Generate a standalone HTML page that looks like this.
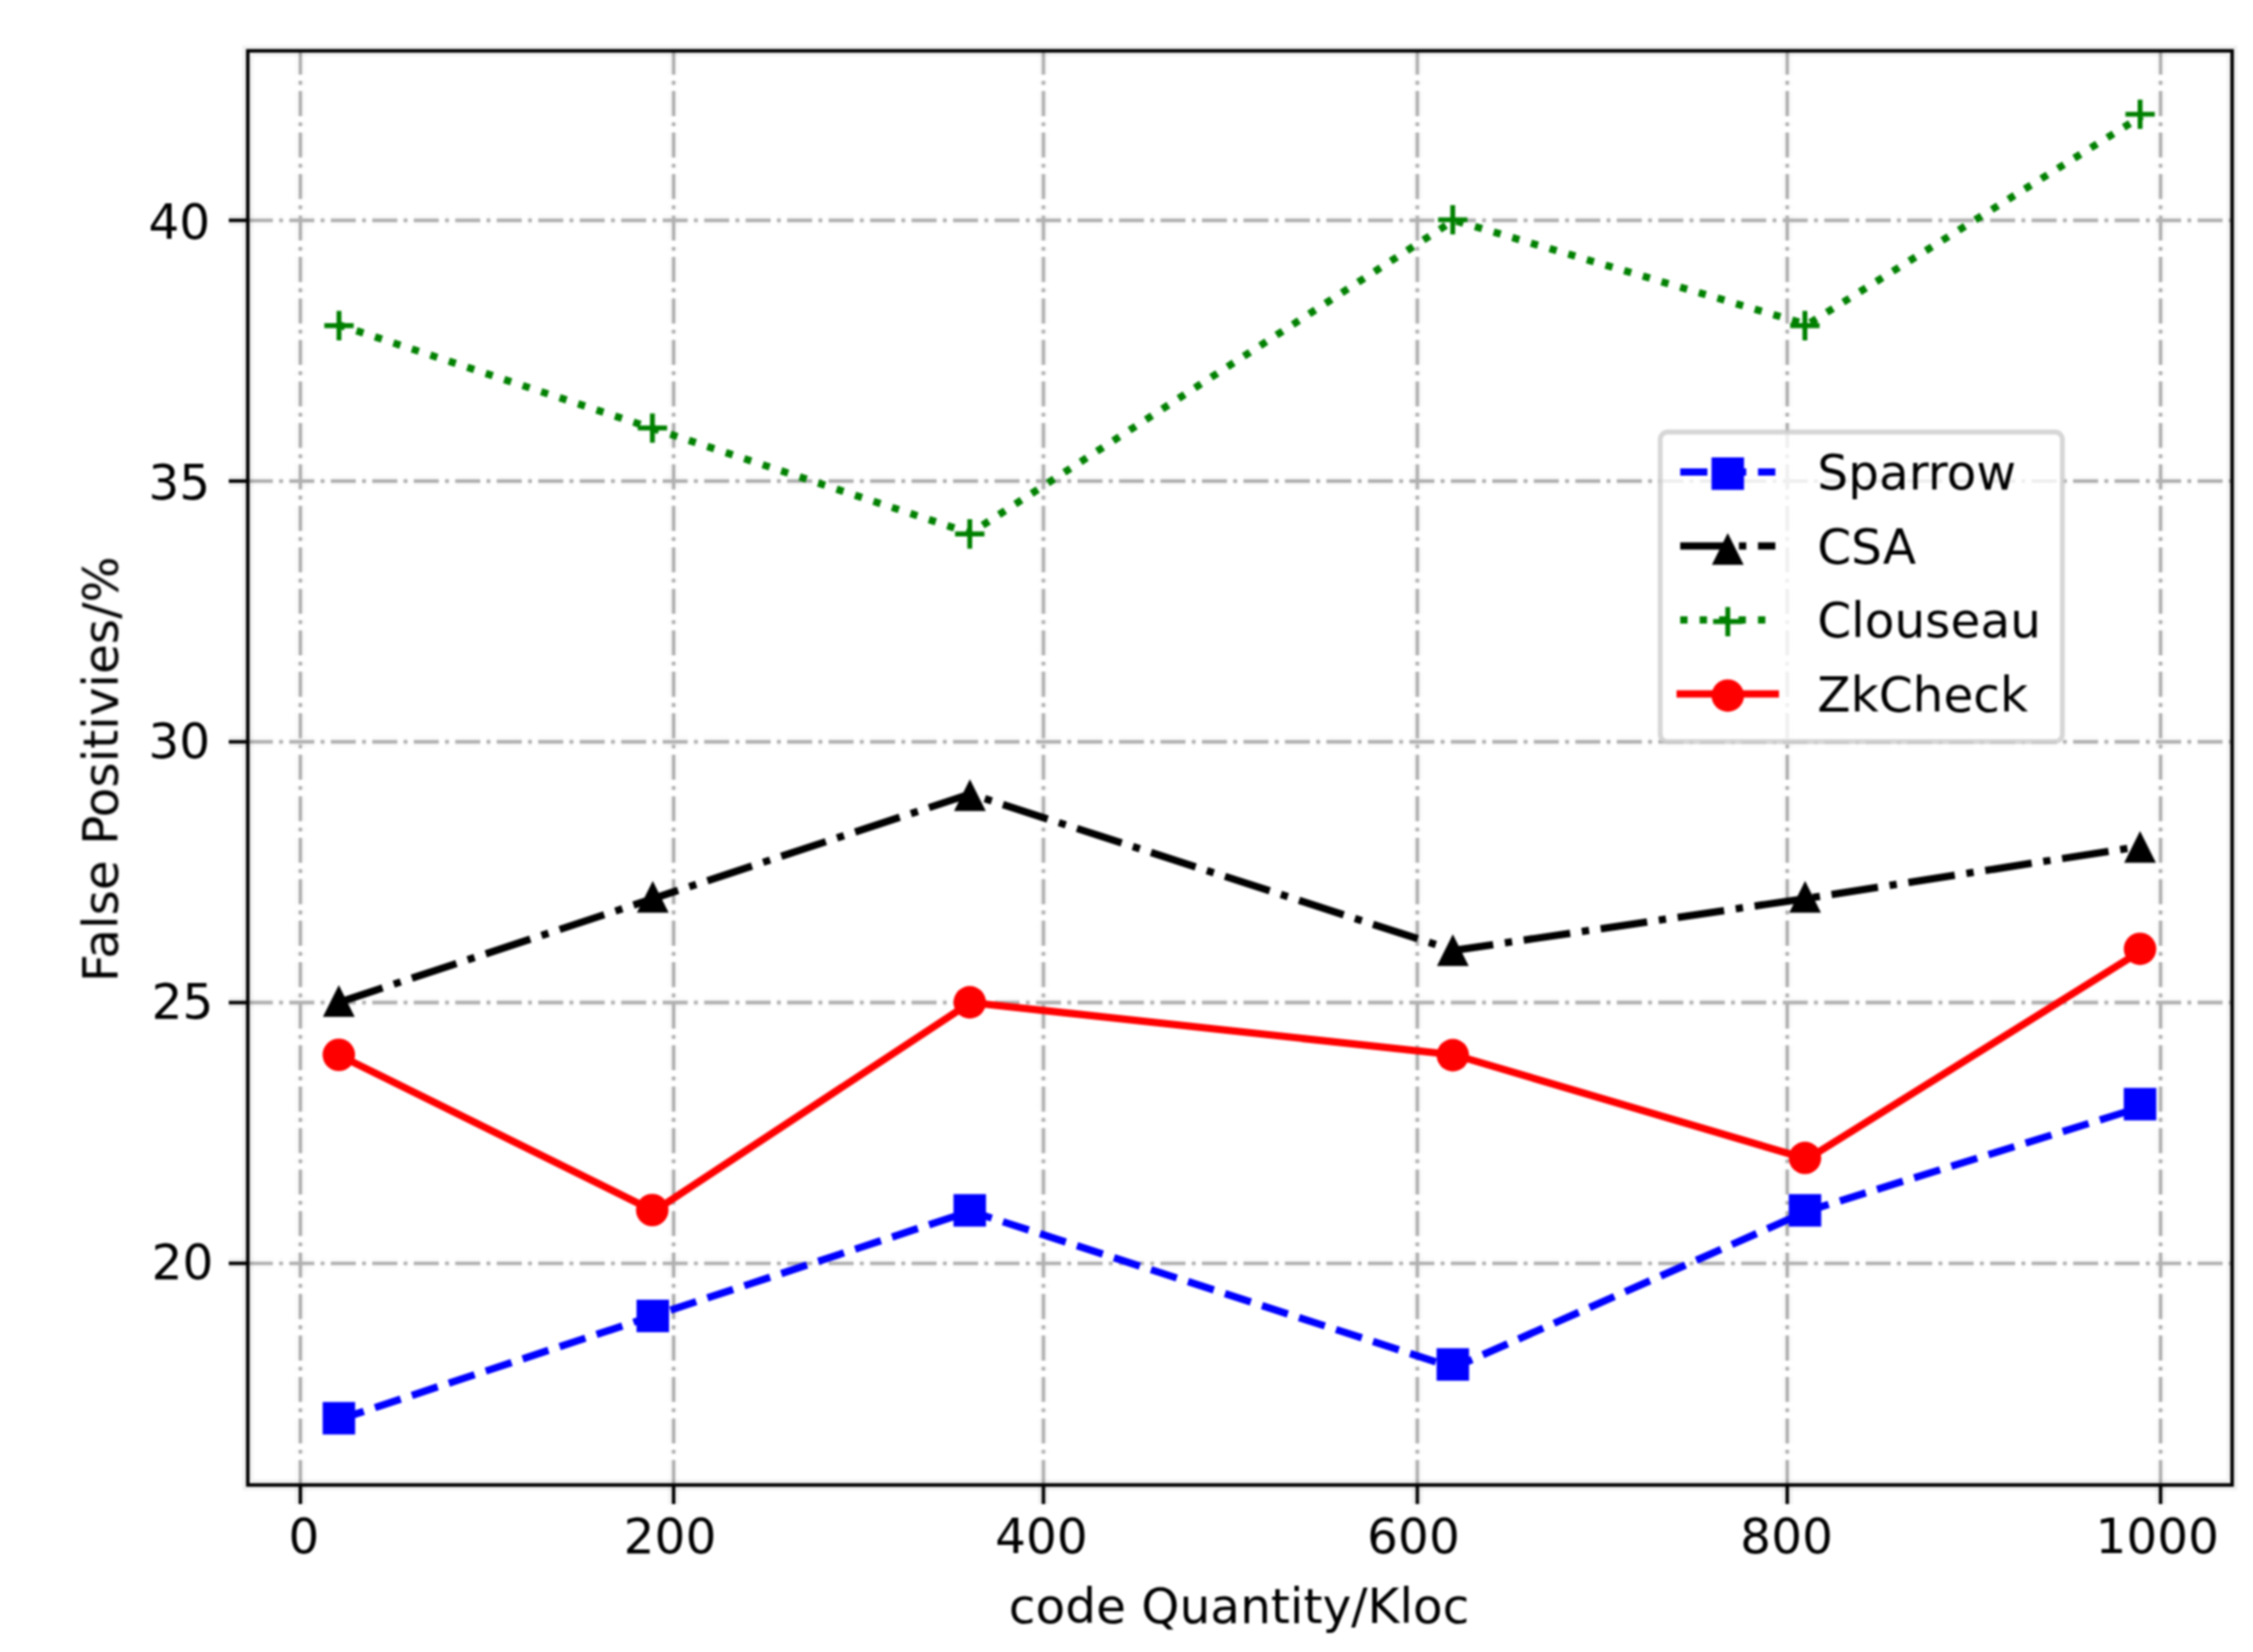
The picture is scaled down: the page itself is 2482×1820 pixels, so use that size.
<!DOCTYPE html>
<html lang="en"><head><meta charset="utf-8"><title>False Positives vs code Quantity</title>
<style>html,body{margin:0;padding:0;background:#fff}body{width:2482px;height:1820px;overflow:hidden}svg{display:block}text{font-family:"DejaVu Sans","Liberation Sans",sans-serif;font-size:53.5px;fill:#000}</style></head><body>
<svg width="2482" height="1820" viewBox="0 0 2482 1820">
<defs><filter id="soft" x="0" y="0" width="2482" height="1820" filterUnits="userSpaceOnUse" color-interpolation-filters="sRGB"><feGaussianBlur stdDeviation="1.2"/></filter></defs>
<rect width="2482" height="1820" fill="#fff"/>
<g filter="url(#soft)">
<g stroke="#b0b0b0" stroke-width="11.63" stroke-opacity="0.056" stroke-dasharray="27.59 6.9 4.31 6.9" fill="none">
<path d="M330.9 1636V56"/>
<path d="M742.1 1636V56"/>
<path d="M1149.5 1636V56"/>
<path d="M1561.4 1636V56"/>
<path d="M1968.9 1636V56"/>
<path d="M2380.2 1636V56"/>
<path d="M273 1391.82H2459"/>
<path d="M273 1104.55H2459"/>
<path d="M273 817.27H2459"/>
<path d="M273 530H2459"/>
<path d="M273 242.73H2459"/>
</g>
<g stroke="#b0b0b0" stroke-width="3.88" stroke-opacity="1" stroke-dasharray="27.59 6.9 4.31 6.9" fill="none">
<path d="M330.9 1636V56"/>
<path d="M742.1 1636V56"/>
<path d="M1149.5 1636V56"/>
<path d="M1561.4 1636V56"/>
<path d="M1968.9 1636V56"/>
<path d="M2380.2 1636V56"/>
<path d="M273 1391.82H2459"/>
<path d="M273 1104.55H2459"/>
<path d="M273 817.27H2459"/>
<path d="M273 530H2459"/>
<path d="M273 242.73H2459"/>
</g>
<g stroke="#000" stroke-width="11.63" stroke-opacity="0.056" fill="none">
<path d="M330.9 1636V1657.02"/>
<path d="M742.1 1636V1657.02"/>
<path d="M1149.5 1636V1657.02"/>
<path d="M1561.4 1636V1657.02"/>
<path d="M1968.9 1636V1657.02"/>
<path d="M2380.2 1636V1657.02"/>
<path d="M273 1391.82H251.98"/>
<path d="M273 1104.55H251.98"/>
<path d="M273 817.27H251.98"/>
<path d="M273 530H251.98"/>
<path d="M273 242.73H251.98"/>
</g>
<g stroke="#000" stroke-width="3.88" stroke-opacity="1" fill="none">
<path d="M330.9 1636V1657.02"/>
<path d="M742.1 1636V1657.02"/>
<path d="M1149.5 1636V1657.02"/>
<path d="M1561.4 1636V1657.02"/>
<path d="M1968.9 1636V1657.02"/>
<path d="M2380.2 1636V1657.02"/>
<path d="M273 1391.82H251.98"/>
<path d="M273 1104.55H251.98"/>
<path d="M273 817.27H251.98"/>
<path d="M273 530H251.98"/>
<path d="M273 242.73H251.98"/>
</g>
<g fill="none" stroke-width="8.08">
<polyline points="372.36,1564.18 720.65,1449.27 1068.93,1334.36 1601.6,1506.73 1990.86,1334.36 2359.64,1219.45" stroke="#0000ff" stroke-dasharray="29.91 12.94"/>
<polyline points="372.36,1104.55 720.65,989.64 1068.93,874.73 1601.6,1047.09 1990.86,989.64 2359.64,932.18" stroke="#000000" stroke-dasharray="51.74 12.94 8.08 12.94"/>
<polyline points="372.36,357.64 720.65,472.55 1068.93,587.45 1601.6,242.73 1990.86,357.64 2359.64,127.82" stroke="#008000" stroke-dasharray="8.08 13.34"/>
<polyline points="372.36,1162 720.65,1334.36 1068.93,1104.55 1601.6,1162 1990.86,1276.91 2359.64,1047.09" stroke="#ff0000" stroke-linecap="square" stroke-linejoin="round"/>
</g>
<g>
<rect x="355.46" y="1544.58" width="35.8" height="35.8" fill="#0000ff"/>
<rect x="701.25" y="1431.87" width="35.8" height="35.8" fill="#0000ff"/>
<rect x="1050.43" y="1315.56" width="35.8" height="35.8" fill="#0000ff"/>
<rect x="1582.6" y="1485.33" width="35.8" height="35.8" fill="#0000ff"/>
<rect x="1970.56" y="1315.56" width="35.8" height="35.8" fill="#0000ff"/>
<rect x="2339.64" y="1198.55" width="35.8" height="35.8" fill="#0000ff"/>
</g>
<g>
<polygon points="373.26,1085.25 355.76,1120.25 390.76,1120.25" fill="#000000"/>
<polygon points="719.15,970.44 701.65,1005.44 736.65,1005.44" fill="#000000"/>
<polygon points="1068.53,858.43 1051.03,893.43 1086.03,893.43" fill="#000000"/>
<polygon points="1600.5,1029.29 1583,1064.29 1618,1064.29" fill="#000000"/>
<polygon points="1988.56,970.44 1971.06,1005.44 2006.06,1005.44" fill="#000000"/>
<polygon points="2357.54,915.38 2340.04,950.38 2375.04,950.38" fill="#000000"/>
</g>
<g>
<path d="M357.29 358.74H389.63M373.46 342.57V374.91" fill="none" stroke="#008000" stroke-width="5.39"/>
<path d="M702.58 471.55H734.92M718.75 455.38V487.72" fill="none" stroke="#008000" stroke-width="5.39"/>
<path d="M1052.16 588.25H1084.5M1068.33 572.08V604.42" fill="none" stroke="#008000" stroke-width="5.39"/>
<path d="M1584.23 242.13H1616.57M1600.4 225.96V258.3" fill="none" stroke="#008000" stroke-width="5.39"/>
<path d="M1972.19 358.74H2004.53M1988.36 342.57V374.91" fill="none" stroke="#008000" stroke-width="5.39"/>
<path d="M2341.47 125.92H2373.81M2357.64 109.75V142.09" fill="none" stroke="#008000" stroke-width="5.39"/>
</g>
<g>
<circle cx="373.26" cy="1162.1" r="17.9" fill="#ff0000"/>
<circle cx="718.55" cy="1333.16" r="17.9" fill="#ff0000"/>
<circle cx="1068.33" cy="1104.25" r="17.9" fill="#ff0000"/>
<circle cx="1600.5" cy="1162.5" r="17.9" fill="#ff0000"/>
<circle cx="1988.46" cy="1275.71" r="17.9" fill="#ff0000"/>
<circle cx="2357.54" cy="1045.29" r="17.9" fill="#ff0000"/>
</g>
<rect x="273" y="56" width="2186" height="1580" fill="none" stroke="#000" stroke-opacity="0.056" stroke-width="11.63"/>
<rect x="273" y="56" width="2186" height="1580" fill="none" stroke="#000" stroke-width="3.88"/>
<text x="334.79" y="1711" text-anchor="middle">0</text>
<text x="738.14" y="1711" text-anchor="middle">200</text>
<text x="1147.28" y="1711" text-anchor="middle">400</text>
<text x="1557.13" y="1711" text-anchor="middle">600</text>
<text x="1968.18" y="1711" text-anchor="middle">800</text>
<text x="2376.52" y="1711" text-anchor="middle">1000</text>
<text x="235" y="1408.92" text-anchor="end">20</text>
<text x="235" y="1121.75" text-anchor="end">25</text>
<text x="231.5" y="834.57" text-anchor="end">30</text>
<text x="231.5" y="550" text-anchor="end">35</text>
<text x="231.5" y="263.03" text-anchor="end">40</text>
<text x="1365" y="1788" text-anchor="middle">code Quantity/Kloc</text>
<text transform="translate(129.5 847.5) rotate(-90)" text-anchor="middle">False Positivies/%</text>
<rect x="1829" y="476" width="443" height="341" rx="8" ry="8" fill="#fff" fill-opacity="0.8" stroke="#ccc" stroke-opacity="0.8" stroke-width="5.39"/>
<path d="M1851 520H1955.8" fill="none" stroke="#0000ff" stroke-width="8.08" stroke-dasharray="29.91 12.94"/>
<rect x="1885.5" y="503.9" width="35.8" height="35.8" fill="#0000ff"/>
<text x="2002" y="539.3">Sparrow</text>
<path d="M1851 601.5H1955.8" fill="none" stroke="#000000" stroke-width="8.08" stroke-dasharray="51.74 12.94 8.08 12.94"/>
<polygon points="1903.4,587.3 1885.9,622.3 1920.9,622.3" fill="#000000"/>
<text x="2002" y="620.8">CSA</text>
<path d="M1851 683H1955.8" fill="none" stroke="#008000" stroke-width="8.08" stroke-dasharray="8.08 13.34"/>
<path d="M1887.23 684.8H1919.57M1903.4 668.63V700.97" fill="none" stroke="#008000" stroke-width="5.39"/>
<text x="2002" y="702.3">Clouseau</text>
<path d="M1851 764.5H1955.8" fill="none" stroke="#ff0000" stroke-width="8.08" stroke-linecap="square"/>
<circle cx="1903.4" cy="766.3" r="17.9" fill="#ff0000"/>
<text x="2002" y="783.8">ZkCheck</text>
</g>
</svg></body></html>
